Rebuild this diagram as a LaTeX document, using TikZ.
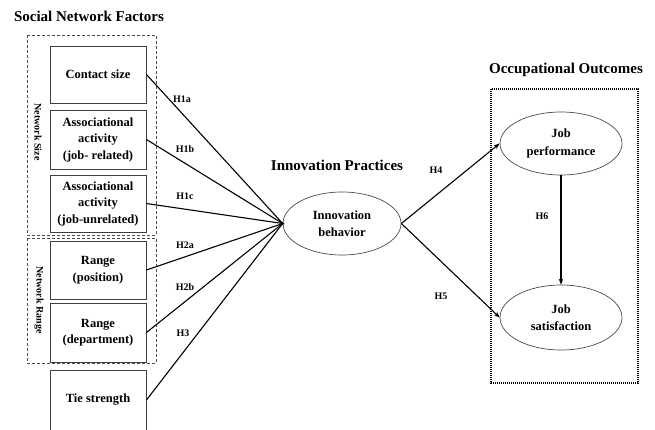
\documentclass[tikz,border=0pt]{standalone}
\usepackage{fontspec}
\setmainfont{Liberation Serif}
\usetikzlibrary{shapes.geometric,arrows.meta}
\begin{document}
\begin{tikzpicture}[x=1pt,y=-1pt,
  factor/.style={draw=black!75,line width=0.9pt,rectangle,minimum width=96pt,inner sep=0pt,align=center,font=\fontsize{12.5}{16.5}\selectfont\bfseries},
  oval/.style={draw=black!70,line width=0.7pt,ellipse,inner sep=0pt,align=center,font=\fontsize{12.5}{17.5}\selectfont\bfseries},
  title/.style={font=\fontsize{15}{18}\selectfont\bfseries},
  hlabel/.style={font=\fontsize{10}{12}\selectfont\bfseries},
  grouplabel/.style={font=\fontsize{10}{12}\selectfont\bfseries,rotate=-90},
  link/.style={draw=black,line width=1.1pt},
  arrowlink/.style={link,-{Stealth[length=6pt,width=4.5pt]}},
  groupbox/.style={draw=black!70,line width=0.8pt,dash pattern=on 3pt off 2pt},
  outbox/.style={draw=black,line width=1.8pt,dash pattern=on 1.3pt off 0.7pt}
]
\useasboundingbox (0,0) rectangle (655,429);
\clip (0,0) rectangle (655,429);

% titles
\node[title] (t1) at (89,16) {Social Network Factors};
\node[title] (t2) at (337,165) {Innovation Practices};
\node[title] (t3) at (566,70) {Occupational Outcomes};

% group boxes
\draw[groupbox] (27,35) rectangle (156,235);
\draw[groupbox] (27,238) rectangle (156,363);
\node[grouplabel] (gs) at (38,132) {Network Size};
\node[grouplabel] (gr) at (39,300) {Network Range};

% factor boxes
\node[factor,minimum height=57pt] (cs) at (98,74.5) {Contact size};
\node[factor,minimum height=59pt] (ar) at (98,139.5) {Associational\\activity\\(job- related)};
\node[factor,minimum height=57pt] (au) at (98,203.5) {Associational\\activity\\(job-unrelated)};
\node[factor,minimum height=58pt] (rp) at (98,270) {Range\\(position)};
\node[factor,minimum height=59pt] (rd) at (98,332.5) {Range\\(department)};
\node[factor,minimum height=60pt] (ts) at (98,400) {Tie strength};

% innovation behavior
\node[oval,minimum width=118pt,minimum height=63pt] (ib) at (342,223.5) {Innovation\\behavior};

% outcomes
\draw[outbox] (491,89) rectangle (638,383);
\node[oval,minimum width=122pt,minimum height=63pt] (jp) at (561,143.5) {Job\\performance};
\node[oval,minimum width=122pt,minimum height=65pt] (js) at (561,317.5) {Job\\satisfaction};

% links
\draw[link] (cs.east) -- (ib.west);
\draw[link] (ar.east) -- (ib.west);
\draw[link] (au.east) -- (ib.west);
\draw[link] (rp.east) -- (ib.west);
\draw[link] (rd.east) -- (ib.west);
\draw[link] (ts.east) -- (ib.west);
\fill (ib.west) circle (1.6pt);

\draw[arrowlink] (ib.east) -- (jp.west);
\draw[arrowlink] (ib.east) -- (js.west);
\draw[arrowlink] (jp.south) -- (js.north);

% hypothesis labels
\node[hlabel] (h1a) at (182,99) {H1a};
\node[hlabel] (h1b) at (185,149) {H1b};
\node[hlabel] (h1c) at (185,196) {H1c};
\node[hlabel] (h2a) at (185,245) {H2a};
\node[hlabel] (h2b) at (185,287) {H2b};
\node[hlabel] (h3) at (183,333) {H3};
\node[hlabel] (h4) at (436,170) {H4};
\node[hlabel] (h5) at (441,296) {H5};
\node[hlabel] (h6) at (542,216) {H6};
\end{tikzpicture}
\end{document}
